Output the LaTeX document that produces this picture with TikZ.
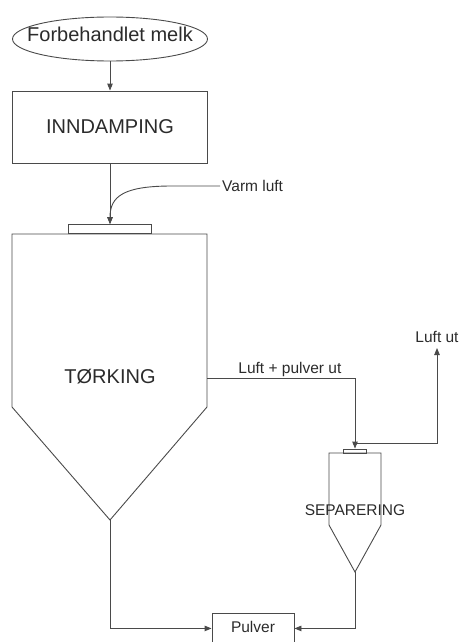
\documentclass[tikz,border=0pt]{standalone}
\usepackage{fontspec}
\setmainfont{Liberation Sans}
\usetikzlibrary{arrows.meta,positioning,calc,shapes.geometric}
\definecolor{ink}{HTML}{2B2B2B}
\definecolor{edge}{HTML}{4A4A4A}

\tikzset{
  unit/.style={draw=edge, line width=0.9pt, text=ink, font=\fontsize{20}{24}\selectfont},
  tag/.style={text=ink, font=\fontsize{15.5}{18}\selectfont, inner sep=2pt},
  flow/.style={draw=edge, line width=0.9pt, ->},
}

\begin{document}
\begin{tikzpicture}[x=1pt, y=-1pt, >={Triangle[length=7pt, width=5.5pt]}]
  \useasboundingbox (0,0) rectangle (461,642);

  % feed and evaporation
  \node[unit, ellipse, minimum width=195pt, minimum height=44pt, inner sep=0pt,
        label={[text=ink, font=\fontsize{20}{24}\selectfont, yshift=5pt]center:Forbehandlet melk}] (melk) at (110,39) {};
  \node[unit, minimum width=195pt, minimum height=72pt] (inndamping) at (110,127) {INNDAMPING};

  % spray dryer
  \node[unit, minimum width=83pt, minimum height=9pt, inner sep=0pt] (inlet) at (110,229) {};
  \coordinate (tapex) at (110,520);
  \coordinate (tside) at (207,378);
  \draw[draw=edge, line width=0.9pt] (12,234) -- (207,234) -- (207,407) -- (tapex) -- (12,407) -- cycle;
  \node[text=ink, font=\fontsize{20}{24}\selectfont] (torking) at (110,377) {TØRKING};

  \node[tag, anchor=west] (varm) at (220,186) {Varm luft};

  % cyclone
  \node[unit, minimum width=23pt, minimum height=4pt, inner sep=0pt] (sepin) at (355,451) {};
  \coordinate (sapex) at (355,572);
  \draw[draw=edge, line width=0.9pt] (329,453) -- (381,453) -- (381,525) -- (sapex) -- (329,525) -- cycle;
  \node[tag] (separering) at (355,510) {SEPARERING};
  \coordinate (split) at (355,443);
  \node[tag, anchor=south, inner ysep=5pt] (luftut) at (437,348) {Luft ut};

  % product
  \node[unit, font=\fontsize{15.5}{18}\selectfont, anchor=north, minimum width=82pt,
        inner ysep=7.5pt, text height=11.5pt, text depth=3.5pt] (pulver) at (253,613) {Pulver};

  \draw[flow] (melk) -- (inndamping);
  \draw[flow] (inndamping) -- (inlet);
  \draw[flow] (varm.west) -- (172,186) .. controls (124,186) and (110,196) .. (inlet.north);
  \draw[flow] (tside) -| node[tag, pos=0.28, above, inner sep=0.5pt] {Luft + pulver ut} (sepin.north);
  \draw[flow] (split) -| (luftut.south);
  \draw[flow] (tapex) |- (pulver.west);
  \draw[flow] (sapex) |- (pulver.east);
\end{tikzpicture}
\end{document}
